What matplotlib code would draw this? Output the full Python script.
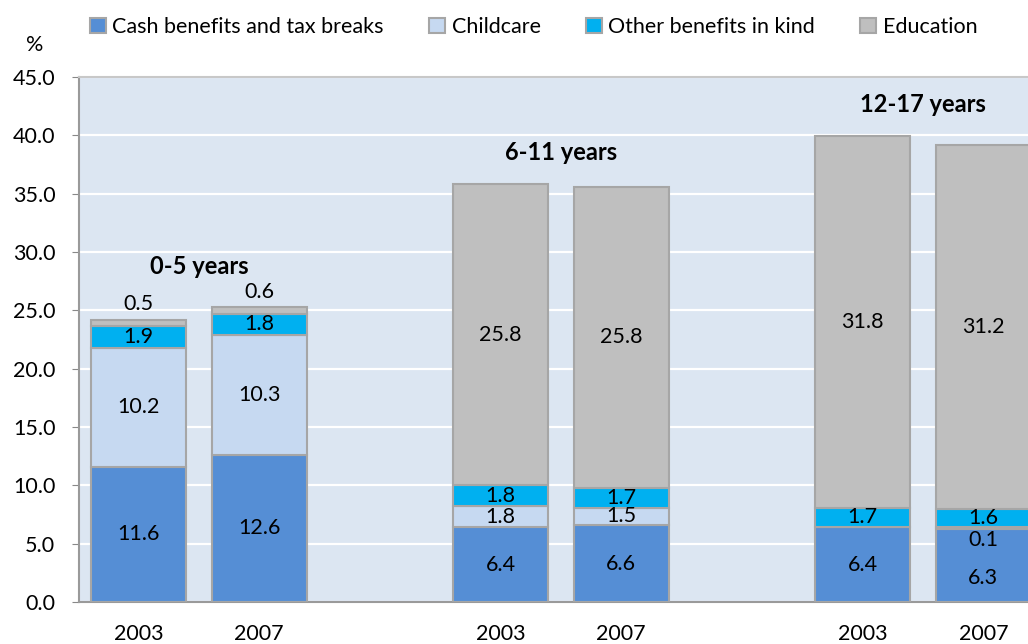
import matplotlib
matplotlib.use("Agg")
import matplotlib.pyplot as plt
import numpy as np

plt.rcParams['font.family'] = ['Lato', 'DejaVu Sans']

groups = ["0-5 years", "6-11 years", "12-17 years"]
years = ["2003", "2007", "2003", "2007", "2003", "2007"]
series_names = ["Cash benefits and tax breaks", "Childcare", "Other benefits in kind", "Education"]
cash = [11.6, 12.6, 6.4, 6.6, 6.4, 6.3]
childcare = [10.2, 10.3, 1.8, 1.5, 0.0, 0.1]
other = [1.9, 1.8, 1.8, 1.7, 1.7, 1.6]
education = [0.5, 0.6, 25.8, 25.8, 31.8, 31.2]
yticks = [0, 5, 10, 15, 20, 25, 30, 35, 40, 45]

colors = ["#558ED5", "#C6D9F1", "#00B0F0", "#BFBFBF"]
edge = "#A6A6A6"

x = np.array([0, 1, 3, 4, 6, 7], dtype=float)
W = 0.787

fig = plt.figure(figsize=(10.28, 6.44), dpi=100)
ax = fig.add_axes([79/1028, 1-602/644, 1-79/1028, (602-77)/644])
ax.set_facecolor("#DCE6F2")

data = [cash, childcare, other, education]
bottom = np.zeros(len(x))
handles = []
for vals, c, name in zip(data, colors, series_names):
    v = np.array(vals)
    h = ax.bar(x, v, W, bottom=bottom, color=c, edgecolor=edge, linewidth=1.5,
               label=name, zorder=3)
    handles.append(h)
    bottom = bottom + v
totals = bottom

fs = 15.5
# segment labels
for i in range(len(x)):
    b = 0.0
    small_child = 0 < childcare[i] < 0.5
    for si, vals in enumerate(data):
        v = vals[i]
        cy = b + v / 2
        if v == 0:
            b += v
            continue
        if si == 3 and v < 1.0:
            cy = totals[i] + 1.3
        if small_child and si == 0:
            cy = v / 3
        if small_child and si == 1:
            cy = b - 1.0
        ax.text(x[i], cy, f"{v:.1f}", ha="center", va="center", fontsize=fs,
                color="black", zorder=5)
        b += v

# group labels
for gi, g in enumerate(groups):
    i0, i1 = 2 * gi, 2 * gi + 1
    mx = max(totals[i0], totals[i1])
    off = 3.5 if education[i0] < 1.0 else 2.7
    ax.text((x[i0] + x[i1]) / 2, mx + off, g, ha="center", va="center",
            fontsize=fs + 1.5, fontweight="bold", zorder=5)

ax.set_ylim(0, 45)
ax.set_xlim(-0.493, 7.37)
ax.set_yticks(yticks)
ax.set_yticklabels([f"{t:.1f}" for t in yticks], fontsize=fs)
ax.set_xticks(x)
ax.set_xticklabels(years, fontsize=fs)
ax.tick_params(axis="x", length=0, pad=16)
ax.tick_params(axis="y", length=5, color="#888888", pad=12, direction="out")
ax.yaxis.grid(True, color="white", linewidth=1.6, zorder=0)
ax.set_axisbelow(True)
for s in ["left", "bottom", "top"]:
    ax.spines[s].set_color("#9A9A9A")
    ax.spines[s].set_linewidth(1.5)
ax.spines["top"].set_color("#C8C8C8")
ax.spines["right"].set_visible(False)

fig.text(35/1028, 1-45/644, "%", ha="center", va="center", fontsize=fs)

leg = fig.legend(handles=handles, loc="center left", bbox_to_anchor=(81/1028, 1-27/644),
                 ncol=4, frameon=False, fontsize=fs, handlelength=0.75, handleheight=0.75,
                 handletextpad=0.3, columnspacing=2.1, borderaxespad=0)

fig.savefig("out.png", dpi=100)
